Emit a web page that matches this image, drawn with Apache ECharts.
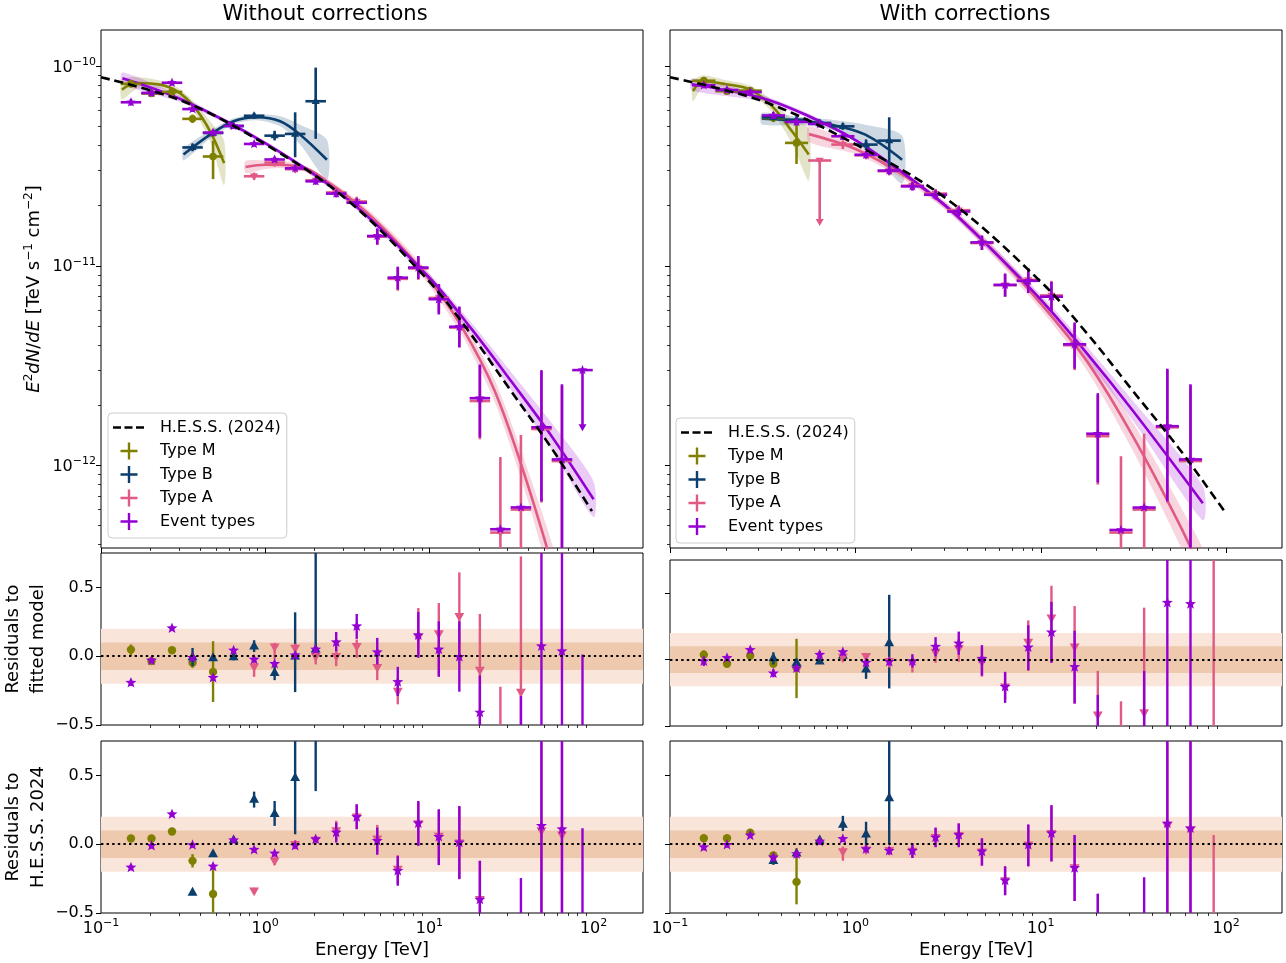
<!DOCTYPE html>
<html>
<head>
<meta charset="utf-8">
<script src="https://cdn.jsdelivr.net/npm/echarts@6.0.0/dist/echarts.min.js"></script>
<style>
html,body{margin:0;padding:0;background:#ffffff;}
#chart{width:1286px;height:963px;}
</style>
</head>
<body>
<div id="chart"></div>
<script>
// ---------------- DATA ----------------
const energies = [0.1522, 0.2030, 0.2707, 0.3610, 0.4814, 0.6419, 0.8560, 1.1415, 1.522, 2.030, 2.707, 3.610, 4.814, 6.419, 8.560, 11.415, 15.22, 20.30, 27.07, 36.10, 48.14, 64.19, 85.60];

const xMajorTicks = [0.1, 1, 10, 100];
const xMinorTicks = [0.2,0.3,0.4,0.5,0.6,0.7,0.8,0.9, 2,3,4,5,6,7,8,9, 20,30,40,50,60,70,80,90];
const yMajorTicks = [1e-12, 1e-11, 1e-10];
const yMinorTicks = [4e-13,5e-13,6e-13,7e-13,8e-13,9e-13, 2e-12,3e-12,4e-12,5e-12,6e-12,7e-12,8e-12,9e-12, 2e-11,3e-11,4e-11,5e-11,6e-11,7e-11,8e-11,9e-11];
const resTicks = [-0.5, 0, 0.5];

// ---- Without corrections: flux points ----
const fluxET_wo = [6.6e-11, 7.35e-11, 8.27e-11, 6.1e-11, 4.65e-11, 5.02e-11, 4.08e-11, 3.41e-11, 3.08e-11, 2.65e-11, 2.3e-11, 2.07e-11, 1.41e-11, 8.72e-12, 9.8e-12, 6.8e-12, 4.95e-12, 2.17e-12, 4.78e-13, 6.15e-13, 1.55e-12, 1.07e-12, 3.0e-12];
const loET_wo   = [6.35e-11, 7.1e-11, 8.0e-11, 5.9e-11, 4.5e-11, 4.85e-11, 3.95e-11, 3.3e-11, 2.97e-11, 2.55e-11, 2.2e-11, 1.97e-11, 1.28e-11, 7.6e-12, 8.6e-12, 5.7e-12, 3.9e-12, 1.38e-12, null, null, 6.6e-13, 1e-13, 1.5e-12];
const hiET_wo   = [6.85e-11, 7.6e-11, 8.55e-11, 6.3e-11, 4.8e-11, 5.2e-11, 4.2e-11, 3.52e-11, 3.2e-11, 2.75e-11, 2.4e-11, 2.18e-11, 1.54e-11, 9.9e-12, 1.12e-11, 8.1e-12, 6.25e-12, 3.2e-12, null, null, 3.0e-12, 2.55e-12, null];
const ulET_wo = [22];

const fluxM_wo = [8.16e-11, 7.3e-11, 7.44e-11, 5.45e-11, 3.53e-11];
const loM_wo   = [7.9e-11, 7.05e-11, 7.2e-11, 5.2e-11, 2.72e-11];
const hiM_wo   = [8.45e-11, 7.55e-11, 7.7e-11, 5.72e-11, 4.24e-11];

const fluxB_wo = [null, null, null, 3.92e-11, 4.63e-11, 5.02e-11, 5.65e-11, 4.49e-11, 4.58e-11, 6.68e-11];
const loB_wo   = [null, null, null, 3.75e-11, 4.45e-11, 4.85e-11, 5.45e-11, 4.25e-11, 3.5e-11, 4.33e-11];
const hiB_wo   = [null, null, null, 4.1e-11, 4.8e-11, 5.2e-11, 5.85e-11, 4.75e-11, 5.88e-11, 9.85e-11];

const fluxA_wo = [null, null, null, null, null, null, 2.81e-11, 3.29e-11, 3.05e-11, 2.68e-11, 2.33e-11, 2.1e-11, 1.4e-11, 8.6e-12, 9.7e-12, 6.9e-12, 4.9e-12, 2.1e-12, 4.6e-13, 6.0e-13, 1.52e-12, 1.05e-12];
const loA_wo   = [null, null, null, null, null, null, 2.7e-11, 3.15e-11, 2.93e-11, 2.57e-11, 2.22e-11, 1.98e-11, 1.27e-11, 7.5e-12, 8.5e-12, 5.8e-12, 3.9e-12, 1.35e-12, 1e-13, 1e-13, 6.5e-13, 1e-13];
const hiA_wo   = [null, null, null, null, null, null, 2.93e-11, 3.43e-11, 3.17e-11, 2.8e-11, 2.44e-11, 2.22e-11, 1.53e-11, 9.8e-12, 1.11e-11, 8.1e-12, 6.2e-12, 3.15e-12, 1.1e-12, 1.42e-12, 2.95e-12, 2.5e-12];

// ---- With corrections: flux points ----
const fluxET_w = [8.03e-11, 7.6e-11, 7.43e-11, 5.67e-11, 5.26e-11, 5.14e-11, 4.46e-11, 3.6e-11, 3.0e-11, 2.5e-11, 2.27e-11, 1.87e-11, 1.31e-11, 8.02e-12, 8.41e-12, 7.0e-12, 4.04e-12, 1.44e-12, 4.74e-13, 6.14e-13, 1.57e-12, 1.07e-12];
const loET_w   = [7.75e-11, 7.35e-11, 7.2e-11, 5.45e-11, 5.05e-11, 4.93e-11, 4.27e-11, 3.45e-11, 2.86e-11, 2.38e-11, 2.15e-11, 1.77e-11, 1.2e-11, 7.0e-12, 7.3e-12, 5.9e-12, 3.05e-12, 8.2e-13, null, null, 6.6e-13, 1e-13];
const hiET_w   = [8.3e-11, 7.85e-11, 7.68e-11, 5.9e-11, 5.48e-11, 5.36e-11, 4.66e-11, 3.76e-11, 3.15e-11, 2.63e-11, 2.4e-11, 1.98e-11, 1.42e-11, 9.15e-12, 9.7e-12, 8.3e-12, 5.2e-12, 2.3e-12, null, null, 3.05e-12, 2.55e-12];

const fluxM_w = [8.47e-11, 7.5e-11, 7.55e-11, 5.5e-11, 4.13e-11];
const loM_w   = [8.2e-11, 7.25e-11, 7.3e-11, 5.25e-11, 3.24e-11];
const hiM_w   = [8.75e-11, 7.75e-11, 7.8e-11, 5.75e-11, 5.09e-11];

const fluxB_w = [null, null, null, 5.55e-11, 5.4e-11, 5.2e-11, 5.0e-11, 4.05e-11, 4.24e-11];
const loB_w   = [null, null, null, 5.35e-11, 5.2e-11, 5.0e-11, 4.8e-11, 3.8e-11, 3.09e-11];
const hiB_w   = [null, null, null, 5.75e-11, 5.6e-11, 5.4e-11, 5.2e-11, 4.3e-11, 5.55e-11];

const fluxA_w = [null, null, null, null, null, 3.37e-11, 4.05e-11, 3.58e-11, 2.98e-11, 2.52e-11, 2.3e-11, 1.9e-11, 1.3e-11, 8.0e-12, 8.5e-12, 7.1e-12, 4.0e-12, 1.4e-12, 4.6e-13, 6.0e-13, 1.55e-12, 1.05e-12];
const loA_w   = [null, null, null, null, null, 1.6e-11, 3.85e-11, 3.42e-11, 2.84e-11, 2.4e-11, 2.18e-11, 1.8e-11, 1.2e-11, 7.0e-12, 7.4e-12, 6.0e-12, 3.0e-12, 8e-13, 1e-13, 1e-13, 6.5e-13, 1e-13];
const hiA_w   = [null, null, null, null, null, null, 4.25e-11, 3.74e-11, 3.13e-11, 2.65e-11, 2.43e-11, 2.01e-11, 1.4e-11, 9.1e-12, 9.7e-12, 8.4e-12, 5.1e-12, 2.25e-12, 1.11e-12, 1.44e-12, 3.0e-12, 2.5e-12];
const ulA_w = [5];

// ---- model curves ----
const hessE = [0.1, 0.316, 1, 3.16, 10, 17.8, 31.6, 56.2, 97.7];
const hessF = [8.81e-11, 6.68e-11, 4.07e-11, 2.14e-11, 8.32e-12, 4.57e-12, 2.34e-12, 1.20e-12, 5.89e-13];

const fitET_wo_E  = [0.135, 0.316, 1, 3.16, 10, 17.8, 31.6, 56.2, 100];
const fitET_wo_F  = [8.71e-11, 6.76e-11, 4.12e-11, 2.16e-11, 8.71e-12, 4.9e-12, 2.63e-12, 1.38e-12, 6.76e-13];
const fitET_wo_lo = [8.13e-11, 6.53e-11, 4.03e-11, 2.09e-11, 8.32e-12, 4.57e-12, 2.37e-12, 1.18e-12, 5.5e-13];
const fitET_wo_hi = [9.33e-11, 7.0e-11, 4.22e-11, 2.24e-11, 9.12e-12, 5.25e-12, 2.92e-12, 1.61e-12, 8.3e-13];

const fitM_wo_E  = [0.134, 0.165, 0.229, 0.29, 0.366, 0.462, 0.562];
const fitM_wo_F  = [7.64e-11, 8.24e-11, 8.09e-11, 7.5e-11, 6.31e-11, 4.72e-11, 3.27e-11];
const fitM_wo_lo = [6.81e-11, 7.69e-11, 7.73e-11, 7.16e-11, 5.96e-11, 4.21e-11, 2.53e-11];
const fitM_wo_hi = [8.57e-11, 8.83e-11, 8.47e-11, 7.85e-11, 6.68e-11, 5.3e-11, 4.23e-11];

const fitB_wo_E  = [0.318, 0.462, 0.641, 0.889, 1.233, 1.633, 2.377];
const fitB_wo_F  = [3.61e-11, 4.54e-11, 5.3e-11, 5.55e-11, 5.3e-11, 4.54e-11, 3.4e-11];
const fitB_wo_lo = [3.37e-11, 4.34e-11, 5.12e-11, 5.36e-11, 5.0e-11, 4.05e-11, 2.7e-11];
const fitB_wo_hi = [3.87e-11, 4.75e-11, 5.49e-11, 5.74e-11, 5.61e-11, 5.09e-11, 4.28e-11];

const fitA_wo_E  = [0.759, 1, 1.585, 2.512, 3.981, 6.31, 10, 15.85, 25.12, 39.81, 63.1];
const fitA_wo_F  = [3.13e-11, 3.21e-11, 3.16e-11, 2.57e-11, 1.91e-11, 1.32e-11, 8.51e-12, 4.9e-12, 2.34e-12, 7.94e-13, 2.24e-13];
const fitA_wo_lo = [2.92e-11, 3.06e-11, 3.05e-11, 2.48e-11, 1.82e-11, 1.25e-11, 7.94e-12, 4.47e-12, 2.06e-12, 6.68e-13, 1.78e-13];
const fitA_wo_hi = [3.35e-11, 3.36e-11, 3.27e-11, 2.66e-11, 2.0e-11, 1.4e-11, 9.12e-12, 5.37e-12, 2.65e-12, 9.44e-13, 2.82e-13];

const fitET_w_E  = [0.131, 0.316, 0.562, 1, 1.778, 3.162, 5.623, 10, 17.78, 31.62, 74.8];
const fitET_w_F  = [8.13e-11, 6.92e-11, 5.62e-11, 4.27e-11, 2.95e-11, 1.95e-11, 1.17e-11, 6.76e-12, 3.63e-12, 1.86e-12, 6.46e-13];
const fitET_w_lo = [7.59e-11, 6.68e-11, 5.47e-11, 4.17e-11, 2.87e-11, 1.88e-11, 1.12e-11, 6.38e-12, 3.35e-12, 1.66e-12, 5.31e-13];
const fitET_w_hi = [8.71e-11, 7.16e-11, 5.78e-11, 4.37e-11, 3.03e-11, 2.02e-11, 1.23e-11, 7.16e-12, 3.93e-12, 2.09e-12, 7.87e-13];

const fitM_w_E  = [0.133, 0.151, 0.198, 0.27, 0.355, 0.455, 0.56];
const fitM_w_F  = [7.5e-11, 8.41e-11, 8.15e-11, 7.64e-11, 6.31e-11, 4.72e-11, 3.61e-11];
const fitM_w_lo = [6.68e-11, 7.85e-11, 7.78e-11, 7.3e-11, 5.89e-11, 4.11e-11, 2.67e-11];
const fitM_w_hi = [8.41e-11, 9.02e-11, 8.53e-11, 8.0e-11, 6.76e-11, 5.42e-11, 4.88e-11];

const fitB_w_E  = [0.313, 0.494, 0.748, 1.132, 1.786];
const fitB_w_F  = [5.46e-11, 5.33e-11, 5.09e-11, 4.54e-11, 3.4e-11];
const fitB_w_lo = [5.1e-11, 5.09e-11, 4.8e-11, 4.05e-11, 2.58e-11];
const fitB_w_hi = [5.85e-11, 5.58e-11, 5.39e-11, 5.09e-11, 4.48e-11];

const fitA_w_E  = [0.562, 1, 1.778, 3.162, 5.623, 10, 17.78, 31.62, 56.23, 79.43];
const fitA_w_F  = [4.57e-11, 3.85e-11, 2.88e-11, 1.95e-11, 1.17e-11, 6.46e-12, 3.31e-12, 1.38e-12, 5.01e-13, 2.51e-13];
const fitA_w_lo = [4.17e-11, 3.63e-11, 2.75e-11, 1.86e-11, 1.1e-11, 6.03e-12, 2.98e-12, 1.17e-12, 3.98e-13, 1.91e-13];
const fitA_w_hi = [5.01e-11, 4.08e-11, 3.02e-11, 2.04e-11, 1.24e-11, 6.92e-12, 3.67e-12, 1.62e-12, 6.31e-13, 3.31e-13];

// ---- residuals to fitted model, without corrections ----
const resFitET_wo = [-0.193, -0.031, 0.203, -0.012, -0.157, 0.041, -0.024, -0.056, 0.007, 0.048, 0.101, 0.217, 0.029, -0.188, 0.152, 0.048, -0.005, -0.41, null, -0.7, 0.072, 0.036, -0.6];
const resFitET_wo_lo = [-0.215, -0.05, 0.183, -0.032, -0.177, 0.021, -0.044, -0.076, -0.013, 0.025, 0.036, 0.126, -0.06, -0.29, -0.012, -0.15, -0.258, -0.9, null, -1.0, -1.0, -1.0, -1.0];
const resFitET_wo_hi = [-0.17, -0.012, 0.222, 0.008, -0.137, 0.061, -0.004, -0.036, 0.027, 0.07, 0.176, 0.307, 0.133, -0.077, 0.321, 0.254, 0.254, -0.14, null, -0.29, 1.0, 1.0, 0.012];
const resFitM_wo = [0.048, -0.036, 0.043, -0.048, -0.114];
const resFitM_wo_lo = [0.005, -0.05, 0.03, -0.085, -0.333];
const resFitM_wo_hi = [0.085, -0.02, 0.056, 0.005, 0.109];
const resFitB_wo = [null, null, null, -0.005, -0.012, -0.005, 0.072, -0.12, 0.0, 0.05];
const resFitB_wo_lo = [null, null, null, -0.072, -0.035, -0.03, 0.03, -0.174, -0.261, 0.0];
const resFitB_wo_hi = [null, null, null, 0.06, 0.01, 0.02, 0.116, -0.048, 0.319, 1.0];
const resFitA_wo = [null, null, null, null, null, null, -0.077, 0.068, 0.06, 0.0, 0.0, 0.072, -0.08, -0.254, 0.14, 0.164, 0.29, -0.1, -0.7, -0.261];
const resFitA_wo_lo = [null, null, null, null, null, null, -0.15, -0.024, 0.03, -0.06, -0.072, -0.012, -0.174, -0.35, 0.0, -0.145, -0.03, -0.9, -1.0, -1.0];
const resFitA_wo_hi = [null, null, null, null, null, null, 0.0, 0.097, 0.09, 0.048, 0.048, 0.121, 0.029, -0.17, 0.35, 0.386, 0.609, 0.307, -0.222, 0.725];

// ---- residuals to H.E.S.S. 2024, without corrections ----
const resHessET_wo = [-0.169, -0.012, 0.217, -0.007, -0.162, 0.029, -0.041, -0.068, -0.012, 0.036, 0.085, 0.198, 0.024, -0.193, 0.152, 0.053, 0.012, -0.403, null, -0.7, 0.133, 0.109, -0.6];
const resHessET_wo_lo = [-0.19, -0.032, 0.197, -0.027, -0.182, 0.009, -0.061, -0.088, -0.032, 0.012, 0.012, 0.109, -0.077, -0.302, -0.012, -0.152, -0.254, -0.9, null, -1.0, -1.0, -1.0, -1.0];
const resHessET_wo_hi = [-0.149, 0.008, 0.237, 0.013, -0.142, 0.049, -0.021, -0.048, 0.008, 0.06, 0.157, 0.29, 0.121, -0.085, 0.314, 0.254, 0.278, -0.121, null, -0.246, 1.0, 1.0, 0.116];
const resHessM_wo = [0.041, 0.041, 0.092, -0.121, -0.362];
const resHessM_wo_lo = [0.02, 0.021, 0.072, -0.169, -0.9];
const resHessM_wo_hi = [0.06, 0.061, 0.112, -0.072, -0.169];
const resHessB_wo = [null, null, null, -0.35, -0.07, 0.03, 0.326, 0.222, 0.483, 0.9];
const resHessB_wo_lo = [null, null, null, -0.37, -0.09, 0.01, 0.266, 0.133, 0.072, 0.386];
const resHessB_wo_hi = [null, null, null, -0.33, -0.05, 0.05, 0.382, 0.314, 1.0, 1.2];
const resHessA_wo = [null, null, null, null, null, null, -0.338, -0.121, 0.0, 0.03, 0.1, 0.2, 0.04, -0.18, 0.15, 0.06, 0.01, -0.4, null, null, 0.1, 0.068];
const resHessA_wo_lo = [null, null, null, null, null, null, -0.36, -0.15, -0.03, 0.0, 0.03, 0.11, -0.06, -0.29, -0.01, -0.15, -0.25, -0.9, null, null, -1.0, -1.0];
const resHessA_wo_hi = [null, null, null, null, null, null, -0.316, -0.09, 0.03, 0.06, 0.17, 0.29, 0.14, -0.08, 0.31, 0.25, 0.27, -0.12, null, null, 1.0, 1.0];

// ---- residuals to fitted model, with corrections ----
const resFitET_w = [-0.012, 0.012, 0.072, -0.104, -0.065, 0.036, 0.056, -0.024, -0.017, -0.012, 0.097, 0.121, 0.007, -0.205, 0.092, 0.205, -0.056, -0.6, null, -0.7, 0.428, 0.418];
const resFitET_w_lo = [-0.048, -0.01, 0.05, -0.133, -0.09, 0.0, 0.03, -0.05, -0.045, -0.06, 0.024, 0.036, -0.121, -0.326, -0.08, -0.024, -0.331, -1.0, null, -1.0, -1.0, -1.0];
const resFitET_w_hi = [0.024, 0.035, 0.095, -0.072, -0.04, 0.065, 0.08, 0.0, 0.01, 0.041, 0.169, 0.211, 0.109, -0.092, 0.259, 0.435, 0.217, -0.266, null, -0.085, 1.0, 1.0];
const resFitM_w = [0.036, -0.031, 0.029, -0.031, -0.06];
const resFitM_w_lo = [0.0, -0.05, 0.01, -0.05, -0.29];
const resFitM_w_hi = [0.07, -0.01, 0.05, -0.01, 0.157];
const resFitB_w = [null, null, null, 0.012, -0.024, -0.012, 0.031, -0.072, 0.126];
const resFitB_w_lo = [null, null, null, -0.036, -0.045, -0.03, 0.01, -0.145, -0.217];
const resFitB_w_hi = [null, null, null, 0.055, 0.0, 0.01, 0.05, -0.012, 0.488];
const resFitA_w = [null, null, null, null, null, null, 0.02, 0.024, -0.012, -0.024, 0.056, 0.085, -0.017, -0.205, 0.133, 0.314, 0.097, -0.415, -0.7, -0.399, null, null, -0.7];
const resFitA_w_lo = [null, null, null, null, null, null, -0.02, 0.0, -0.06, -0.097, -0.024, -0.017, -0.128, -0.3, -0.085, -0.024, -0.331, -1.0, -1.0, -1.0, null, null, -1.0];
const resFitA_w_hi = [null, null, null, null, null, null, 0.06, 0.05, 0.02, 0.024, 0.109, 0.157, 0.085, -0.1, 0.295, 0.556, 0.403, -0.085, -0.314, 0.391, null, null, 1.0];

// ---- residuals to H.E.S.S. 2024, with corrections ----
const resHessET_w = [-0.022, -0.005, 0.063, -0.096, -0.072, 0.019, 0.038, -0.036, -0.048, -0.048, 0.048, 0.067, -0.053, -0.264, -0.005, 0.079, -0.173, -0.6, null, -0.7, 0.151, 0.115];
const resHessET_w_lo = [-0.045, -0.025, 0.045, -0.125, -0.1, -0.005, 0.015, -0.06, -0.075, -0.1, -0.022, -0.022, -0.156, -0.371, -0.161, -0.125, -0.413, -1.0, null, -1.0, -1.0, -1.0];
const resHessET_w_hi = [0.0, 0.015, 0.085, -0.07, -0.045, 0.045, 0.06, -0.01, -0.02, 0.007, 0.12, 0.151, 0.043, -0.161, 0.144, 0.284, 0.067, -0.36, null, -0.24, 1.0, 1.0];
const resHessM_w = [0.043, 0.043, 0.084, -0.082, -0.274];
const resHessM_w_lo = [0.02, 0.02, 0.065, -0.11, -0.437];
const resHessM_w_hi = [0.07, 0.06, 0.1, -0.055, -0.029];
const resHessB_w = [null, null, null, -0.12, -0.065, 0.03, 0.144, 0.072, 0.337];
const resHessB_w_lo = [null, null, null, -0.15, -0.085, 0.01, 0.096, -0.01, 0.0];
const resHessB_w_hi = [null, null, null, -0.09, -0.045, 0.05, 0.206, 0.163, 1.0];
const resHessA_w = [null, null, null, null, null, null, -0.053, -0.04, -0.045, -0.05, 0.05, 0.065, -0.055, -0.265, -0.005, 0.08, -0.17, -0.6, null, null, 0.135, 0.105, -0.7];
const resHessA_w_lo = [null, null, null, null, null, null, -0.12, -0.07, -0.075, -0.1, -0.02, -0.02, -0.155, -0.37, -0.16, -0.125, -0.41, -1.0, null, null, -1.0, -1.0, -1.0];
const resHessA_w_hi = [null, null, null, null, null, null, -0.017, -0.01, -0.02, 0.005, 0.12, 0.15, 0.04, -0.16, 0.14, 0.28, 0.065, -0.36, null, null, 1.0, 1.0, 0.067];

// ---------------- STYLE ----------------
const FONT = 'DejaVu Sans';
const COL = {M: '#808000', B: '#0b3d6d', A: '#e05a83', ET: '#9400d3'};
const BAND = {M: 'rgba(128,128,0,0.22)', B: 'rgba(11,61,109,0.20)', A: 'rgba(224,90,131,0.25)', ET: 'rgba(148,0,211,0.20)'};
const RES_OUTER = '#f9e5da', RES_INNER = '#eec9ad';
const BIN_HALF = Math.pow(10, 0.0625); // half of a 0.125-decade energy bin

const GRIDS = [
  {left: 101, top: 30, width: 542, height: 518},
  {left: 101, top: 553, width: 542, height: 172},
  {left: 101, top: 741, width: 542, height: 172},
  {left: 670, top: 30, width: 612, height: 518},
  {left: 670, top: 560, width: 612, height: 166},
  {left: 670, top: 741, width: 612, height: 172}
];

// ---------------- HELPERS ----------------
function rowsFrom(vals, lo, hi, ulIdx) {
  const out = [];
  for (let i = 0; i < energies.length; i++) {
    const v = vals[i];
    if (v === null || v === undefined) continue;
    const l = (lo && lo[i] !== null && lo[i] !== undefined) ? lo[i] : v;
    const h = (hi && hi[i] !== null && hi[i] !== undefined) ? hi[i] : v;
    out.push([energies[i], v, l, h, (ulIdx && ulIdx.indexOf(i) >= 0) ? 1 : 0]);
  }
  return out;
}

function marker(kind, x, y, s, color) {
  if (kind === 'circle') return {type: 'circle', shape: {cx: x, cy: y, r: s}, style: {fill: color}};
  if (kind === 'triUp') return {type: 'polygon', shape: {points: [[x, y - s], [x + s * 0.9, y + s * 0.6], [x - s * 0.9, y + s * 0.6]]}, style: {fill: color}};
  if (kind === 'triDown') return {type: 'polygon', shape: {points: [[x, y + s], [x + s * 0.9, y - s * 0.6], [x - s * 0.9, y - s * 0.6]]}, style: {fill: color}};
  const pts = [];
  for (let k = 0; k < 10; k++) {
    const r = (k % 2) ? s * 0.42 : s;
    const a = -Math.PI / 2 + k * Math.PI / 5;
    pts.push([x + r * Math.cos(a), y + r * Math.sin(a)]);
  }
  return {type: 'polygon', shape: {points: pts}, style: {fill: color}};
}

function errSeries(name, gi, rows, kind, color, o) {
  return {
    type: 'custom', name: name, xAxisIndex: gi, yAxisIndex: gi, clip: true, z: o.z, silent: true,
    itemStyle: {color: color},
    data: rows,
    renderItem: function (params, api) {
      const E = api.value(0), v = api.value(1), lo = api.value(2), hi = api.value(3), ul = api.value(4);
      const c = api.coord([E, v]);
      const st = {stroke: color, lineWidth: o.lw, fill: null};
      const ch = [];
      if (o.xerr) {
        const a = api.coord([E / BIN_HALF, v]), b = api.coord([E * BIN_HALF, v]);
        ch.push({type: 'line', shape: {x1: a[0], y1: a[1], x2: b[0], y2: b[1]}, style: st});
      }
      if (ul) {
        const t = api.coord([E, lo]);
        ch.push({type: 'line', shape: {x1: c[0], y1: c[1], x2: t[0], y2: t[1] - 3}, style: st});
        ch.push({type: 'polygon', shape: {points: [[t[0] - 4, t[1] - 6], [t[0] + 4, t[1] - 6], [t[0], t[1] + 1]]}, style: {fill: color}});
      } else if (lo !== hi) {
        const p = api.coord([E, lo]), q = api.coord([E, hi]);
        ch.push({type: 'line', shape: {x1: p[0], y1: p[1], x2: q[0], y2: q[1]}, style: st});
      }
      ch.push(marker(kind, c[0], c[1], o.ms, color));
      return {type: 'group', children: ch};
    }
  };
}

function bandSeries(gi, E, lo, hi, fill) {
  return {
    type: 'custom', name: 'band', xAxisIndex: gi, yAxisIndex: gi, clip: true, z: 2, silent: true,
    data: E.map(function (e, i) { return [e, lo[i], hi[i]]; }),
    renderItem: function (params, api) {
      if (params.dataIndex !== 0) return null;
      const pts = [];
      for (let i = 0; i < E.length; i++) pts.push(api.coord([E[i], hi[i]]));
      for (let i = E.length - 1; i >= 0; i--) pts.push(api.coord([E[i], lo[i]]));
      return {type: 'polygon', shape: {points: pts, smooth: 0.25}, style: {fill: fill}};
    }
  };
}

function lineSeries(name, gi, E, F, color, w, type, z) {
  return {
    type: 'line', name: name, xAxisIndex: gi, yAxisIndex: gi, silent: true, clip: true,
    data: E.map(function (e, i) { return [e, F[i]]; }),
    smooth: 0.35, symbol: 'none', z: z,
    lineStyle: {color: color, width: w, type: type || 'solid'},
    itemStyle: {color: color}
  };
}

function powLabel(v) {
  const k = Math.round(Math.log10(v));
  return '{b|10}{s|' + (k < 0 ? '\u2212' : '') + Math.abs(k) + '}';
}
function resLabel(v) {
  return (v < 0 ? '\u2212' : '') + Math.abs(v).toFixed(1);
}
const RICH = {
  b: {fontFamily: FONT, fontSize: 16, color: '#000', verticalAlign: 'bottom'},
  s: {fontFamily: FONT, fontSize: 11, color: '#000', verticalAlign: 'bottom', padding: [0, 0, 8, 0]}
};

// ---------------- AXES ----------------
const xAxes = [], yAxes = [];
for (let gi = 0; gi < 6; gi++) {
  const isBottom = (gi === 2 || gi === 5);
  xAxes.push({
    type: 'log', logBase: 10, gridIndex: gi, min: 0.1, max: 200, position: 'bottom',
    axisLine: {show: false}, splitLine: {show: false},
    axisTick: {show: true, length: 5, lineStyle: {color: '#000', width: 1}, customValues: xMajorTicks},
    axisLabel: {show: isBottom, customValues: xMajorTicks, formatter: powLabel, rich: RICH, margin: 5},
    name: isBottom ? 'Energy [TeV]' : '', nameLocation: 'middle', nameGap: 28,
    nameTextStyle: {fontFamily: FONT, fontSize: 18, color: '#000'}
  });
}
for (let gi = 0; gi < 6; gi++) {
  xAxes.push({
    type: 'log', logBase: 10, gridIndex: gi, min: 0.1, max: 200, position: 'bottom',
    axisLine: {show: false}, splitLine: {show: false},
    axisTick: {show: true, length: 3, lineStyle: {color: '#000', width: 0.8}, customValues: xMinorTicks},
    axisLabel: {show: false}
  });
}
const yNames = [
  '{i|E}{s|2}{i|dN}{n|/}{i|dE}{n| [TeV s}{s|\u22121}{n| cm}{s|\u22122}{n|]}',
  'Residuals to\nfitted model',
  'Residuals to\nH.E.S.S. 2024'
];
for (let gi = 0; gi < 6; gi++) {
  const isTop = (gi === 0 || gi === 3);
  const showLab = gi < 3;
  if (isTop) {
    yAxes.push({
      type: 'log', logBase: 10, gridIndex: gi, min: 3.85e-13, max: 1.52e-10, position: 'left',
      axisLine: {show: false}, splitLine: {show: false},
      axisTick: {show: true, length: 5, lineStyle: {color: '#000', width: 1}, customValues: yMajorTicks},
      axisLabel: {show: showLab, customValues: yMajorTicks, formatter: powLabel, rich: RICH, margin: 5},
      name: showLab ? yNames[0] : '', nameLocation: 'middle', nameRotate: 90, nameGap: 58,
      nameTextStyle: {fontFamily: FONT, fontSize: 18, color: '#000', rich: {
        i: {fontFamily: FONT, fontSize: 18, fontStyle: 'italic', color: '#000', verticalAlign: 'bottom'},
        n: {fontFamily: FONT, fontSize: 18, color: '#000', verticalAlign: 'bottom'},
        s: {fontFamily: FONT, fontSize: 12, color: '#000', verticalAlign: 'bottom', padding: [0, 0, 8, 0]}
      }}
    });
  } else {
    yAxes.push({
      type: 'value', gridIndex: gi, min: -0.5, max: 0.75, position: 'left',
      axisLine: {show: false}, splitLine: {show: false},
      axisTick: {show: true, length: 5, lineStyle: {color: '#000', width: 1}, customValues: resTicks},
      axisLabel: {show: showLab, customValues: resTicks, formatter: resLabel, margin: 7,
        fontFamily: FONT, fontSize: 16, color: '#000'},
      name: showLab ? yNames[gi] : '', nameLocation: 'middle', nameRotate: 90, nameGap: 44,
      nameTextStyle: {fontFamily: FONT, fontSize: 18, color: '#000', lineHeight: 25, align: 'center'}
    });
  }
}
[0, 3].forEach(function (gi) {
  yAxes.push({
    type: 'log', logBase: 10, gridIndex: gi, min: 3.85e-13, max: 1.52e-10, position: 'left',
    axisLine: {show: false}, splitLine: {show: false},
    axisTick: {show: true, length: 3, lineStyle: {color: '#000', width: 0.8}, customValues: yMinorTicks},
    axisLabel: {show: false}
  });
});

// ---------------- SERIES ----------------
const series = [];
function topPanel(gi, d) {
  series.push(bandSeries(gi, d.mE, d.mLo, d.mHi, BAND.M));
  series.push(bandSeries(gi, d.bE, d.bLo, d.bHi, BAND.B));
  series.push(bandSeries(gi, d.aE, d.aLo, d.aHi, BAND.A));
  series.push(bandSeries(gi, d.eE, d.eLo, d.eHi, BAND.ET));
  series.push(lineSeries('fitM', gi, d.mE, d.mF, COL.M, 2.6, 'solid', 3));
  series.push(lineSeries('fitB', gi, d.bE, d.bF, COL.B, 2.6, 'solid', 3));
  series.push(lineSeries('fitA', gi, d.aE, d.aF, COL.A, 2.6, 'solid', 3));
  series.push(lineSeries('fitET', gi, d.eE, d.eF, COL.ET, 2.6, 'solid', 3));
  const o = {lw: 2.6, xerr: true, z: 4};
  series.push(errSeries('Type M', gi, d.pM, 'circle', COL.M, Object.assign({ms: 3.8}, o)));
  series.push(errSeries('Type B', gi, d.pB, 'triUp', COL.B, Object.assign({ms: 4.5}, o)));
  series.push(errSeries('Type A', gi, d.pA, 'triDown', COL.A, Object.assign({ms: 4.5}, o)));
  series.push(errSeries('Event types', gi, d.pE, 'star', COL.ET, Object.assign({ms: 5.2}, o)));
  series.push(lineSeries('H.E.S.S. (2024)', gi, hessE, hessF, '#000', 2.6, [9, 5], 6));
}
topPanel(0, {
  mE: fitM_wo_E, mF: fitM_wo_F, mLo: fitM_wo_lo, mHi: fitM_wo_hi,
  bE: fitB_wo_E, bF: fitB_wo_F, bLo: fitB_wo_lo, bHi: fitB_wo_hi,
  aE: fitA_wo_E, aF: fitA_wo_F, aLo: fitA_wo_lo, aHi: fitA_wo_hi,
  eE: fitET_wo_E, eF: fitET_wo_F, eLo: fitET_wo_lo, eHi: fitET_wo_hi,
  pM: rowsFrom(fluxM_wo, loM_wo, hiM_wo), pB: rowsFrom(fluxB_wo, loB_wo, hiB_wo),
  pA: rowsFrom(fluxA_wo, loA_wo, hiA_wo), pE: rowsFrom(fluxET_wo, loET_wo, hiET_wo, ulET_wo)
});
topPanel(3, {
  mE: fitM_w_E, mF: fitM_w_F, mLo: fitM_w_lo, mHi: fitM_w_hi,
  bE: fitB_w_E, bF: fitB_w_F, bLo: fitB_w_lo, bHi: fitB_w_hi,
  aE: fitA_w_E, aF: fitA_w_F, aLo: fitA_w_lo, aHi: fitA_w_hi,
  eE: fitET_w_E, eF: fitET_w_F, eLo: fitET_w_lo, eHi: fitET_w_hi,
  pM: rowsFrom(fluxM_w, loM_w, hiM_w), pB: rowsFrom(fluxB_w, loB_w, hiB_w),
  pA: rowsFrom(fluxA_w, loA_w, hiA_w, ulA_w), pE: rowsFrom(fluxET_w, loET_w, hiET_w)
});

function resPanel(gi, d) {
  series.push({
    type: 'line', name: 'resband', xAxisIndex: gi, yAxisIndex: gi, data: [], silent: true, z: 1,
    markArea: {silent: true, data: [
      [{yAxis: -0.2, itemStyle: {color: RES_OUTER}}, {yAxis: 0.2}],
      [{yAxis: -0.1, itemStyle: {color: RES_INNER}}, {yAxis: 0.1}]
    ]}
  });
  series.push({
    type: 'line', name: 'zero', xAxisIndex: gi, yAxisIndex: gi, data: [], silent: true, z: 2,
    markLine: {silent: true, symbol: 'none', label: {show: false},
      lineStyle: {color: '#000', width: 2.2, type: [2.4, 3.2]}, data: [{yAxis: 0}]}
  });
  const o = {lw: 2.4, xerr: false, z: 4};
  series.push(errSeries('Type M', gi, d.m, 'circle', COL.M, Object.assign({ms: 4.2}, o)));
  series.push(errSeries('Type B', gi, d.b, 'triUp', COL.B, Object.assign({ms: 5.5}, o)));
  series.push(errSeries('Type A', gi, d.a, 'triDown', COL.A, Object.assign({ms: 5.5}, o)));
  series.push(errSeries('Event types', gi, d.e, 'star', COL.ET, Object.assign({ms: 5.8}, o)));
}
resPanel(1, {
  m: rowsFrom(resFitM_wo, resFitM_wo_lo, resFitM_wo_hi), b: rowsFrom(resFitB_wo, resFitB_wo_lo, resFitB_wo_hi),
  a: rowsFrom(resFitA_wo, resFitA_wo_lo, resFitA_wo_hi), e: rowsFrom(resFitET_wo, resFitET_wo_lo, resFitET_wo_hi)
});
resPanel(2, {
  m: rowsFrom(resHessM_wo, resHessM_wo_lo, resHessM_wo_hi), b: rowsFrom(resHessB_wo, resHessB_wo_lo, resHessB_wo_hi),
  a: rowsFrom(resHessA_wo, resHessA_wo_lo, resHessA_wo_hi), e: rowsFrom(resHessET_wo, resHessET_wo_lo, resHessET_wo_hi)
});
resPanel(4, {
  m: rowsFrom(resFitM_w, resFitM_w_lo, resFitM_w_hi), b: rowsFrom(resFitB_w, resFitB_w_lo, resFitB_w_hi),
  a: rowsFrom(resFitA_w, resFitA_w_lo, resFitA_w_hi), e: rowsFrom(resFitET_w, resFitET_w_lo, resFitET_w_hi)
});
resPanel(5, {
  m: rowsFrom(resHessM_w, resHessM_w_lo, resHessM_w_hi), b: rowsFrom(resHessB_w, resHessB_w_lo, resHessB_w_hi),
  a: rowsFrom(resHessA_w, resHessA_w_lo, resHessA_w_hi), e: rowsFrom(resHessET_w, resHessET_w_lo, resHessET_w_hi)
});

// ---------------- LEGEND ----------------
const BOX = 'M0,0 L0.01,0.01 M42,19 L41.99,18.99 ';
const ICON_DASH = 'path://' + BOX + 'M0,8.3 H8 V10.7 H0 Z M11.5,8.3 H19.5 V10.7 H11.5 Z M23,8.3 H31 V10.7 H23 Z';
const ICON_PLUS = 'path://' + BOX + 'M7.5,8.3 H24.5 V10.7 H7.5 Z M14.8,1 H17.2 V18 H14.8 Z';
const legendNames = ['H.E.S.S. (2024)', 'Type M', 'Type B', 'Type A', 'Event types'];
function legendAt(left, top) {
  return {
    show: true, left: left, top: top, orient: 'vertical', itemWidth: 42, itemHeight: 19, itemGap: 4.5,
    padding: [5, 6, 7, 5], backgroundColor: 'rgba(255,255,255,0.8)', borderColor: '#cccccc', borderWidth: 1,
    borderRadius: 4, selectedMode: false, itemStyle: {borderWidth: 0},
    textStyle: {fontFamily: FONT, fontSize: 16, color: '#000', lineHeight: 19},
    data: legendNames.map(function (n, i) { return {name: n, icon: i === 0 ? ICON_DASH : ICON_PLUS}; })
  };
}

// ---------------- OPTION ----------------
const option = {
  animation: false,
  backgroundColor: '#ffffff',
  textStyle: {fontFamily: FONT},
  grid: GRIDS.map(function (g) {
    return Object.assign({show: true, borderColor: '#000', borderWidth: 1, backgroundColor: 'transparent',
      containLabel: false, outerBoundsMode: 'none'}, g);
  }),
  xAxis: xAxes,
  yAxis: yAxes,
  legend: [legendAt(108, 413), legendAt(676, 418)],
  graphic: [
    {type: 'text', x: 325, y: 15, silent: true, style: {text: 'Without corrections', fill: '#000', font: '21px "DejaVu Sans"', align: 'center', verticalAlign: 'middle'}},
    {type: 'text', x: 965, y: 15, silent: true, style: {text: 'With corrections', fill: '#000', font: '21px "DejaVu Sans"', align: 'center', verticalAlign: 'middle'}}
  ],
  series: series
};

const chart = echarts.init(document.getElementById('chart'), null, {renderer: 'canvas'});
chart.setOption(option);
</script>
</body>
</html>
